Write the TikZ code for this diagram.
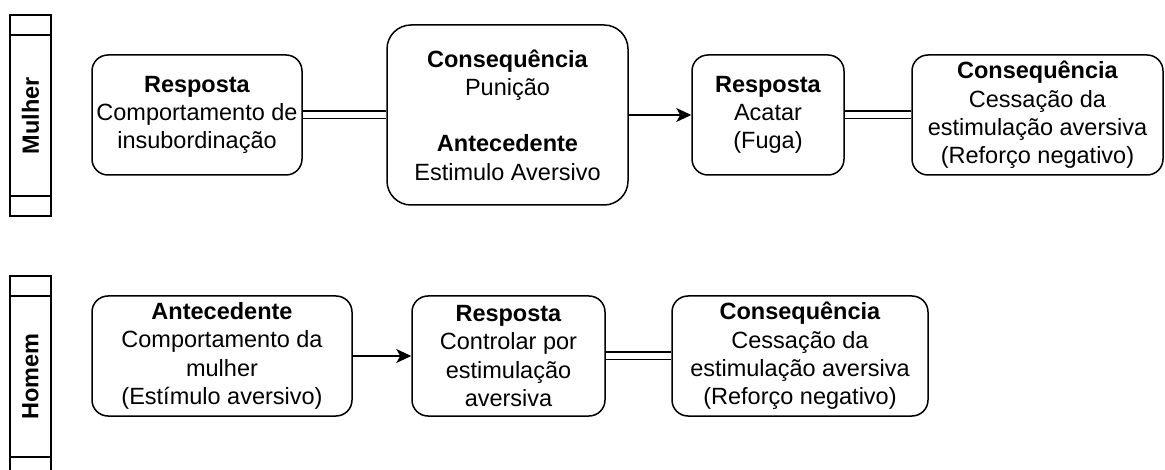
\documentclass[tikz,border=0pt]{standalone}
\usepackage{fontspec}
\setmainfont{Liberation Sans}
\usetikzlibrary{arrows.meta}

\begin{document}
\begin{tikzpicture}[x=1pt,y=-1pt,line width=1.5pt,
    font=\fontsize{23.5}{28.2}\selectfont,
    box/.style={draw,rounded corners=16pt,align=center,inner sep=0pt,minimum height=120pt},
    lanelabel/.style={rotate=90,font=\fontsize{23.5}{28.2}\selectfont\bfseries},
    link/.style={double,double distance=6pt},
    flow/.style={-{Stealth[length=15pt,width=14pt,inset=4pt]}}]
  \useasboundingbox (0,0) rectangle (1165,470);

  % Swimlanes
  \foreach \y/\name in {15/Mulher, 276/Homem} {
    \draw (10,\y) rectangle +(41,201);
    \draw (10,\y+20) -- +(41,0);
    \draw (10,\y+181) -- +(41,0);
    \node[lanelabel] (lane\name) at (30.5,\y+100.5) {\name};
  }

  % Mulher
  \begin{scope}
    \node[box,minimum width=210pt] (resp1) at (197,115)
      {\textbf{Resposta}\\Comportamento de\\insubordinação};
    \node[box,minimum width=241pt,minimum height=180pt,rounded corners=24pt] (cons1) at (507.5,115)
      {\textbf{Consequência}\\Punição\\[28.2pt]\textbf{Antecedente}\\Estimulo Aversivo};
    \node[box,minimum width=152pt] (resp2) at (768,115)
      {\textbf{Resposta}\\Acatar\\(Fuga)};
    \node[box,minimum width=251pt] (cons2) at (1037.5,115)
      {\textbf{Consequência}\\Cessação da\\estimulação aversiva\\(Reforço negativo)};
    \draw[link] (resp1) -- (cons1);
    \draw[flow] (cons1) -- (resp2);
    \draw[link] (resp2) -- (cons2);
  \end{scope}

  % Homem
  \begin{scope}
    \node[box,minimum width=260pt] (ante3) at (222,356)
      {\textbf{Antecedente}\\Comportamento da\\mulher\\(Estímulo aversivo)};
    \node[box,minimum width=193pt] (resp3) at (508.5,356)
      {\textbf{Resposta}\\Controlar por\\estimulação\\aversiva};
    \node[box,minimum width=256pt] (cons3) at (800,356)
      {\textbf{Consequência}\\Cessação da\\estimulação aversiva\\(Reforço negativo)};
    \draw[flow] (ante3) -- (resp3);
    \draw[link] (resp3) -- (cons3);
  \end{scope}
\end{tikzpicture}
\end{document}
